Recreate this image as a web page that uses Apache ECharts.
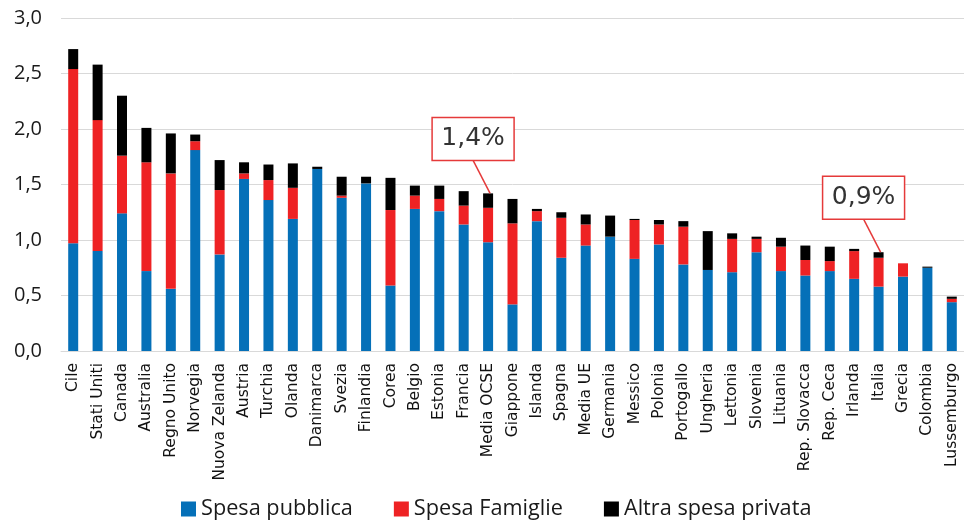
<!DOCTYPE html>
<html>
<head>
<meta charset="utf-8">
<script src="https://cdn.jsdelivr.net/npm/echarts@6/dist/echarts.min.js"></script>
<style>
html,body{margin:0;padding:0;background:#fff;}
#chart{width:964px;height:522px;}
</style>
</head>
<body>
<div id="chart"></div>
<script>
var categories = ["Cile","Stati Uniti","Canada","Australia","Regno Unito","Norvegia","Nuova Zelanda","Austria","Turchia","Olanda","Danimarca","Svezia","Finlandia","Corea","Belgio","Estonia","Francia","Media OCSE","Giappone","Islanda","Spagna","Media UE","Germania","Messico","Polonia","Portogallo","Ungheria","Lettonia","Slovenia","Lituania","Rep. Slovacca","Rep. Ceca","Irlanda","Italia","Grecia","Colombia","Lussemburgo"];
var spesaPubblica = [0.97,0.90,1.24,0.72,0.56,1.81,0.87,1.55,1.36,1.19,1.64,1.38,1.51,0.59,1.28,1.26,1.14,0.98,0.42,1.17,0.84,0.95,1.03,0.83,0.96,0.78,0.73,0.71,0.89,0.72,0.68,0.72,0.65,0.58,0.67,0.75,0.44];
var spesaFamiglie = [1.57,1.18,0.52,0.98,1.04,0.08,0.58,0.05,0.18,0.28,0.00,0.02,0.00,0.68,0.12,0.11,0.17,0.31,0.73,0.09,0.36,0.19,0.00,0.35,0.18,0.34,0.00,0.30,0.12,0.22,0.14,0.09,0.25,0.26,0.12,0.00,0.03];
var altraSpesa = [0.18,0.50,0.54,0.31,0.36,0.06,0.27,0.10,0.14,0.22,0.02,0.17,0.06,0.29,0.09,0.12,0.13,0.13,0.22,0.02,0.05,0.09,0.19,0.01,0.04,0.05,0.35,0.05,0.02,0.08,0.13,0.13,0.02,0.05,0.00,0.01,0.02];
var seriesNames = ["Spesa pubblica","Spesa Famiglie","Altra spesa privata"];
var annotations = [{category:"Media OCSE", text:"1,4%"},{category:"Italia", text:"0,9%"}];

var chart = echarts.init(document.getElementById('chart'));
var colors = ['#0570b8','#ee2224','#000000'];
function mk(name, data, color){
  return {name:name, type:'bar', stack:'tot', data:data, barWidth:10,
    itemStyle:{color:color}, emphasis:{disabled:true}};
}
chart.setOption({
  animation:false,
  textStyle:{fontFamily:'Open Sans'},
  grid:{left:61, right:-5, top:18, bottom:171, containLabel:false},
  legend:{
    data:seriesNames.map(function(n,i){return {name:n, itemStyle:{color:colors[i]}};}),
    left:181, top:498, padding:0, itemWidth:15, itemHeight:15, itemGap:41,
    icon:'rect',
    textStyle:{fontFamily:'Open Sans', fontSize:21.7, color:'#1a1a1a', padding:[0,0,0,0]}
  },
  xAxis:{
    type:'category', data:categories,
    axisLine:{show:true, lineStyle:{color:'#d9d9d9', width:1}},
    axisTick:{show:false},
    axisLabel:{rotate:90, interval:0, fontFamily:'DejaVu Sans', fontSize:15.5, color:'#111', margin:12}
  },
  yAxis:{
    type:'value', min:0, max:3, interval:0.5,
    axisLine:{show:false}, axisTick:{show:false},
    splitLine:{lineStyle:{color:'#d9d9d9', width:1}},
    axisLabel:{fontFamily:'Open Sans', fontSize:20, color:'#1a1a1a', margin:19,
      formatter:function(v){return v.toFixed(1).replace('.',',');}}
  },
  series:[mk(seriesNames[0], spesaPubblica, colors[0]), mk(seriesNames[1], spesaFamiglie, colors[1]), mk(seriesNames[2], altraSpesa, colors[2])]
});

var graphics = [];
annotations.forEach(function(a){
  var i = categories.indexOf(a.category);
  var total = spesaPubblica[i] + spesaFamiglie[i] + altraSpesa[i];
  var p = chart.convertToPixel({xAxisIndex:0, yAxisIndex:0}, [i, total]);
  var ax = p[0] + 2, ay = p[1];
  var ex = ax - 17, ey = ay - 33;
  graphics.push({type:'line', shape:{x1:ax, y1:ay, x2:ex, y2:ey}, style:{stroke:'#e53a3a', lineWidth:1.5}, z:100});
  graphics.push({type:'rect', shape:{x:ex-41, y:ey-43, width:82, height:43}, style:{fill:'#fff', stroke:'#e53a3a', lineWidth:1.5}, z:100});
  graphics.push({type:'text', x:ex, y:ey-21.5, style:{text:a.text, fontFamily:'DejaVu Sans', fontSize:25, fill:'#333', align:'center', verticalAlign:'middle'}, z:101});
});
chart.setOption({graphic:graphics});
</script>
</body>
</html>
